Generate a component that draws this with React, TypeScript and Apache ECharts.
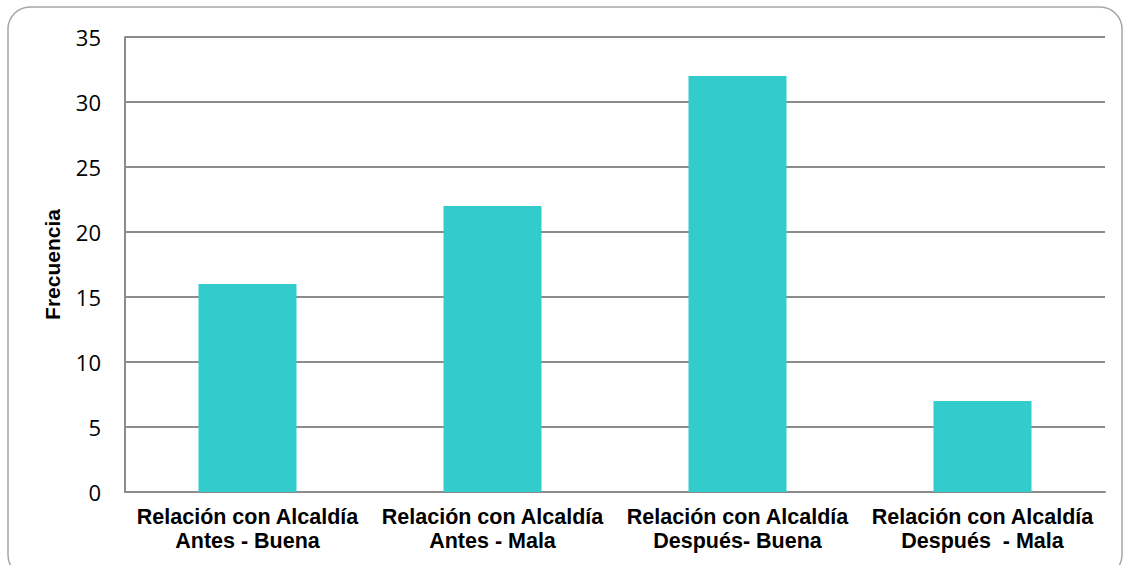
import React, { useEffect, useRef } from "react";
import * as echarts from "echarts";

const categories = [
  "Relación con Alcaldía\nAntes - Buena",
  "Relación con Alcaldía\nAntes - Mala",
  "Relación con Alcaldía\nDespués- Buena",
  "Relación con Alcaldía\nDespués  - Mala",
];
const values = [16, 22, 32, 7];
const yTicks = { min: 0, max: 35, interval: 5 };

export default function App() {
  const ref = useRef<HTMLDivElement>(null);
  useEffect(() => {
    const chart = echarts.init(ref.current!, null, { renderer: "svg" });
    chart.setOption({
      animation: false,
      backgroundColor: "#ffffff",
      graphic: [
        {
          type: "rect",
          shape: { x: 8, y: 7, width: 1114, height: 570, r: 22 },
          style: { fill: "none", stroke: "#a6a6a6", lineWidth: 1.5 },
          silent: true,
          z: -1,
        },
      ],
      grid: { left: 125, right: 20, top: 37, bottom: 73 },
      xAxis: {
        type: "category",
        data: categories,
        axisLine: { lineStyle: { color: "#8c8c8c", width: 2 } },
        axisTick: { show: false },
        axisLabel: {
          interval: 0,
          color: "#000",
          fontFamily: "Liberation Sans, Arial",
          fontWeight: "bold",
          fontSize: 21.5,
          lineHeight: 24,
          margin: 13,
        },
      },
      yAxis: {
        type: "value",
        min: yTicks.min,
        max: yTicks.max,
        interval: yTicks.interval,
        name: "Frecuencia",
        nameLocation: "middle",
        nameRotate: 90,
        nameGap: 62,
        nameTextStyle: {
          color: "#000",
          fontFamily: "Liberation Sans, Arial",
          fontWeight: "bold",
          fontSize: 21,
        },
        axisLine: { show: true, lineStyle: { color: "#8c8c8c", width: 2 } },
        axisTick: { show: false },
        splitLine: { lineStyle: { color: "#8c8c8c", width: 2 } },
        axisLabel: {
          color: "#000",
          fontFamily: "Open Sans, Noto Sans",
          fontSize: 22,
          margin: 24,
        },
      },
      series: [
        {
          type: "bar",
          data: values,
          barWidth: "40%",
          itemStyle: { color: "#33CCCC" },
        },
      ],
    });
    return () => chart.dispose();
  }, []);
  return (
    <div
      ref={ref}
      style={{ position: "fixed", left: 0, top: 0, width: 1125, height: 565 }}
    />
  );
}
